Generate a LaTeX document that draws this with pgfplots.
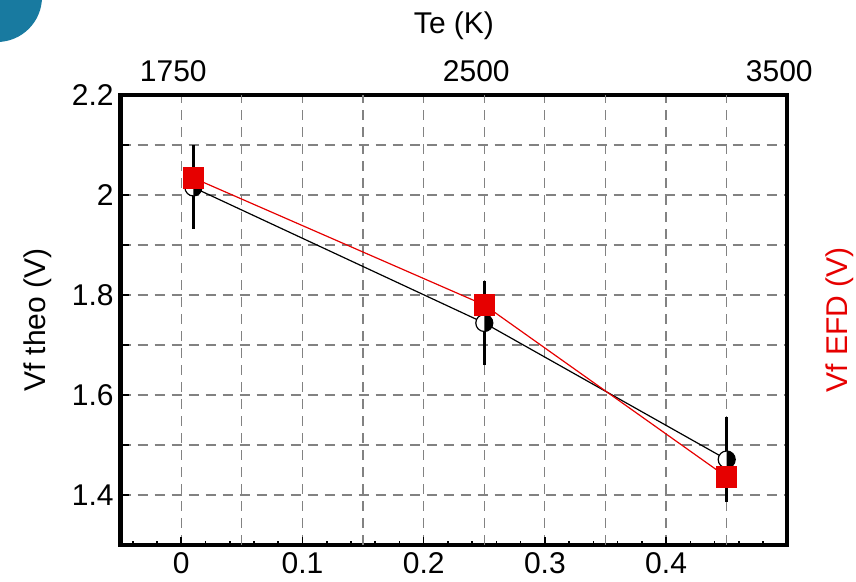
\documentclass[border=0pt]{standalone}
\usepackage{fontspec}
\setmainfont{Liberation Sans}
\usepackage{pgfplots}
\pgfplotsset{compat=1.18}
\definecolor{slideblue}{RGB}{24,122,160}
\definecolor{efdred}{RGB}{230,0,0}
\definecolor{gridgray}{RGB}{130,130,130}
\tikzset{dashgrid/.style={gridgray, dash pattern=on 5pt off 3.5pt, line width=0.6pt}}

% open circle whose right half is filled black
\pgfdeclareplotmark{halfright}{%
  \pgfpathcircle{\pgfpointorigin}{\pgfplotmarksize}%
  \pgfsetfillcolor{white}%
  \pgfusepath{fill,stroke}%
  \pgfpathmoveto{\pgfqpoint{0pt}{\pgfplotmarksize}}%
  \pgfpatharc{90}{-90}{\pgfplotmarksize}%
  \pgfpathclose
  \pgfsetfillcolor{black}%
  \pgfusepath{fill}%
}

\begin{document}
\begin{tikzpicture}
\useasboundingbox (-60.35pt,-18.5pt) rectangle (367.65pt,272.5pt);
\begin{scope}
  \clip (-60.35pt,-18.5pt) rectangle (367.65pt,272.5pt);
  \fill[slideblue] (-61.85pt,274pt) circle (22.5pt);
\end{scope}

\pgfplotsset{
  every axis/.append style={
    width=333.3pt, height=225pt, scale only axis,
    xmin=-0.05, xmax=0.5, ymin=1.3, ymax=2.2,
    font=\fontsize{15}{18}\selectfont,
    /pgf/number format/assume math mode=true,
  },
}

% bottom / left axis: Vf theo against x
\begin{axis}[
  axis line style={line width=2.2pt},
  xtick pos=left, ytick pos=left,
  xtick={0,0.1,0.2,0.3,0.4},
  xticklabels={0,0.1,0.2,0.3,0.4},
  minor xtick={-0.04,-0.02,0.02,0.04,0.06,0.08,0.12,0.14,0.16,0.18,0.22,0.24,0.26,0.28,0.32,0.34,0.36,0.38,0.42,0.44,0.46,0.48},
  extra x ticks={0.05,0.15,0.25,0.35,0.45},
  extra x tick labels={},
  extra x tick style={grid=major, major tick style={draw=none},
    grid style={dashgrid}, major grid style={dashgrid}},
  ytick={1.4,1.5,1.6,1.7,1.8,1.9,2.0,2.1,2.2},
  yticklabels={1.4,,1.6,,1.8,,2,,2.2},
  xmajorgrids=true, ymajorgrids=true,
  grid style={dashgrid},
  major grid style={dashgrid},
  major tick length=4pt, minor tick length=2pt,
  tick style={black, line width=0.8pt},
  ylabel={Vf theo (V)},
  ylabel style={at={(axis description cs:-0.124,0.5)}, anchor=center},
]
\addplot[black, line width=0.6pt, mark=halfright, mark size=4.25pt,
  mark options={solid, line width=0.6pt}]
  coordinates {(0.01,2.015) (0.25,1.744) (0.45,1.471)};
\addplot[efdred, line width=0.6pt, mark=square*, mark size=5pt,
  mark options={fill=efdred, draw=none}]
  coordinates {(0.01,2.034) (0.25,1.780) (0.45,1.436)};
\addplot[draw=none, error bars/.cd, y dir=both, y explicit, error mark=none,
  error bar style={draw=black, line width=1.6pt, solid}]
  coordinates {(0.01,2.015) +- (0,0.084) (0.25,1.744) +- (0,0.084) (0.45,1.471) +- (0,0.085)};
\end{axis}

% top / right axis: Te labels and Vf EFD title
\begin{axis}[
  axis x line*=top, axis y line*=right,
  axis line style={draw=none},
  xtick={0,0.25,0.5}, xticklabels={1750,2500,3500},
  ytick=\empty,
  major tick length=0pt,
  xticklabel style={xshift=-4pt, yshift=3pt},
  xlabel={Te (K)},
  xlabel style={at={(axis description cs:0.5,1.155)}, anchor=center},
  ylabel={Vf EFD (V)},
  ylabel style={efdred, at={(axis description cs:1.078,0.5)}, anchor=center},
]
\end{axis}
\end{tikzpicture}
\end{document}
